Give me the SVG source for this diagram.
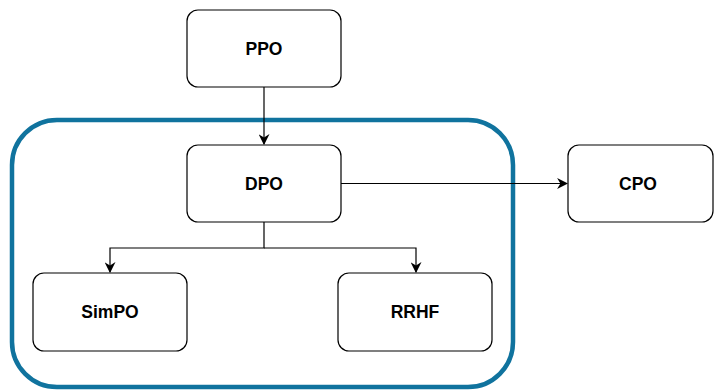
<svg xmlns="http://www.w3.org/2000/svg" width="715" height="392" viewBox="0 0 715 392">
  <defs>
    <style>
      .box { fill: #ffffff; stroke: #000000; stroke-width: 1.2; }
      .label { font-family: "Liberation Sans", Arial, sans-serif; font-size: 17.5px; font-weight: bold; fill: #000000; text-anchor: middle; dominant-baseline: central; }
      .edge { fill: none; stroke: #000000; stroke-width: 1.2; }
      .group { fill: none; stroke: #10739e; stroke-width: 4.5; }
    </style>
    <marker id="arrow" viewBox="0 0 10 10" refX="9" refY="5" markerWidth="11" markerHeight="11" markerUnits="userSpaceOnUse" orient="auto">
      <path d="M0,0 L10,5 L0,10 L3,5 Z" fill="#000000"/>
    </marker>
  </defs>
  <rect width="715" height="392" fill="#ffffff"/>

  <!-- grouping container around DPO family -->
  <rect id="container" class="group" x="12" y="120" width="501" height="267" rx="45" ry="45"/>

  <!-- connectors -->
  <g id="connectors">
    <path class="edge" d="M264,87 L264,144" marker-end="url(#arrow)"/>
    <path class="edge" d="M341,183.5 L567,183.5" marker-end="url(#arrow)"/>
    <path class="edge" d="M264,222 L264,248 L110,248 L110,272" marker-end="url(#arrow)"/>
    <path class="edge" d="M264,248 L416,248 L416,272" marker-end="url(#arrow)"/>
  </g>

  <g id="ppo">
    <rect class="box" x="187" y="10" width="154" height="77" rx="11" ry="11"/>
    <text class="label" x="264" y="49">PPO</text>
  </g>
  <g id="dpo">
    <rect class="box" x="187" y="145" width="154" height="77" rx="11" ry="11"/>
    <text class="label" x="264" y="184">DPO</text>
  </g>
  <g id="cpo">
    <rect class="box" x="568" y="145" width="145" height="77" rx="11" ry="11"/>
    <text class="label" x="638" y="184">CPO</text>
  </g>
  <g id="simpo">
    <rect class="box" x="33" y="273" width="154" height="78" rx="11" ry="11"/>
    <text class="label" x="110" y="312">SimPO</text>
  </g>
  <g id="rrhf">
    <rect class="box" x="338" y="273" width="154" height="78" rx="11" ry="11"/>
    <text class="label" x="415" y="312">RRHF</text>
  </g>
</svg>
